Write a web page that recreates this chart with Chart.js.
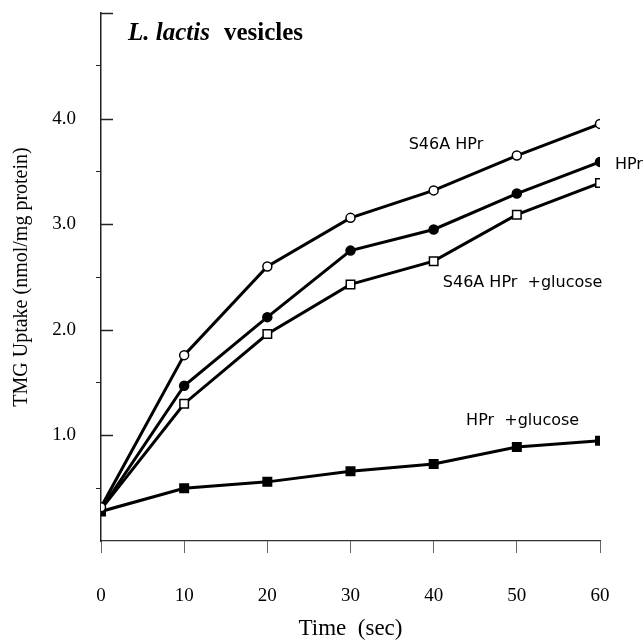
<!DOCTYPE html>
<html>
<head>
<meta charset="utf-8">
<script src="https://cdn.jsdelivr.net/npm/chart.js@4/dist/chart.umd.min.js"></script>
<style>
  html, body { margin: 0; padding: 0; background: #fff; }
  #wrap { width: 644px; height: 643px; }
</style>
</head>
<body>
<div id="wrap"><canvas id="uptake" width="644" height="643"></canvas></div>
<script>
// --- data ---
const times = [0, 10, 20, 30, 40, 50, 60];
const s46aHpr = [0.32, 1.76, 2.60, 3.06, 3.32, 3.65, 3.95];
const hpr = [0.30, 1.47, 2.12, 2.75, 2.95, 3.29, 3.59];
const s46aHprGlc = [0.30, 1.30, 1.96, 2.43, 2.65, 3.09, 3.39];
const hprGlc = [0.28, 0.50, 0.56, 0.66, 0.73, 0.89, 0.95];
const yLabelled = [1, 2, 3, 4];

// series labels drawn next to the curves (data units)
const curveLabels = [
  { text: 'S46A HPr', x: 37.0, y: 3.75 },
  { text: 'HPr', x: 61.8, y: 3.56 },
  { text: 'S46A HPr  +glucose', x: 41.1, y: 2.44 },
  { text: 'HPr  +glucose', x: 43.9, y: 1.14 }
];

const serif = '"Liberation Serif", "Times New Roman", serif';
const sans = '"DejaVu Sans", Verdana, sans-serif';

const pts = arr => times.map((t, i) => ({ x: t, y: arr[i] }));

const makeSet = (label, arr, style, filled) => ({
  label,
  data: pts(arr),
  borderColor: '#000',
  borderWidth: 3,
  pointStyle: style,
  pointRadius: style === 'rect' ? 6 : 4.5,
  pointBorderWidth: 1.5,
  pointBorderColor: '#000',
  pointBackgroundColor: filled ? '#000' : '#fff',
  tension: 0
});

// inward major ticks on y axis, plus title and curve labels
const decorations = {
  id: 'decorations',
  afterDraw(chart) {
    const { ctx, scales: { x, y } } = chart;
    ctx.save();
    ctx.strokeStyle = '#222';
    ctx.lineWidth = 1.5;
    [1, 2, 3, 4, 5].forEach(v => {
      const py = Math.round(y.getPixelForValue(v)) + 0.5;
      ctx.beginPath();
      ctx.moveTo(x.left, py);
      ctx.lineTo(x.left + 12, py);
      ctx.stroke();
    });

    // panel title
    ctx.fillStyle = '#000';
    ctx.textBaseline = 'middle';
    ctx.textAlign = 'left';
    ctx.font = 'italic bold 25px ' + serif;
    const part1 = 'L. lactis';
    ctx.fillText(part1, 128, 34);
    const w1 = ctx.measureText(part1).width;
    ctx.font = 'bold 25px ' + serif;
    ctx.fillText('vesicles', 128 + w1 + 14, 34);

    // curve labels
    ctx.font = '16px ' + sans;
    curveLabels.forEach(l => {
      ctx.fillText(l.text, x.getPixelForValue(l.x), y.getPixelForValue(l.y));
    });
    ctx.restore();
  }
};

new Chart(document.getElementById('uptake'), {
  type: 'line',
  data: {
    datasets: [
      makeSet('S46A HPr', s46aHpr, 'circle', false),
      makeSet('HPr', hpr, 'circle', true),
      makeSet('S46A HPr +glucose', s46aHprGlc, 'rect', false),
      makeSet('HPr +glucose', hprGlc, 'rect', true)
    ]
  },
  options: {
    responsive: false,
    animation: false,
    layout: { padding: { top: 13, right: 44, bottom: 0, left: 0 } },
    plugins: {
      legend: { display: false },
      tooltip: { enabled: false }
    },
    scales: {
      x: {
        type: 'linear',
        min: 0,
        max: 60,
        afterFit: s => {
          s.height = 102;
          s.paddingLeft = 0;
          s.paddingRight = 0;
        },
        ticks: {
          stepSize: 10,
          padding: 32,
          color: '#000',
          font: { family: serif, size: 19 }
        },
        grid: {
          drawOnChartArea: false,
          drawTicks: true,
          tickLength: 12,
          color: '#666',
          lineWidth: 1
        },
        border: { color: '#333', width: 1.2 },
        title: {
          display: true,
          text: 'Time  (sec)',
          color: '#000',
          font: { family: serif, size: 23 },
          padding: { top: 0, bottom: 0 }
        }
      },
      y: {
        min: 0,
        max: 5,
        afterFit: s => {
          s.width = 101;
          s.paddingTop = 0;
          s.paddingBottom = 0;
        },
        ticks: {
          stepSize: 0.5,
          padding: 20,
          color: '#000',
          font: { family: serif, size: 19 },
          callback: v => yLabelled.includes(v) ? v.toFixed(1) : ''
        },
        grid: {
          drawOnChartArea: false,
          drawTicks: true,
          tickLength: 5,
          color: ctx => (ctx.tick && Number.isInteger(ctx.tick.value)) ? 'rgba(0,0,0,0)' : '#222',
          lineWidth: 1
        },
        border: { color: '#222', width: 1.5 },
        title: {
          display: true,
          text: 'TMG Uptake (nmol/mg protein)',
          color: '#000',
          font: { family: serif, size: 20 },
          padding: { top: 10, bottom: 0 }
        }
      }
    }
  },
  plugins: [decorations]
});
</script>
</body>
</html>
